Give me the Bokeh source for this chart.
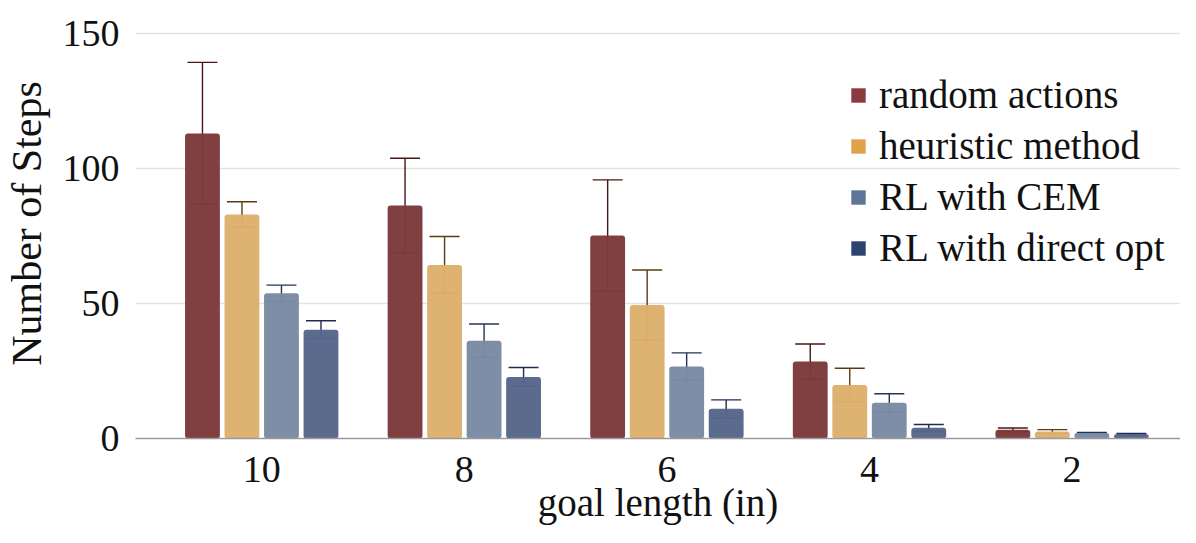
from bokeh.plotting import figure
from bokeh.models import (ColumnDataSource, Range1d, FixedTicker, Whisker, TeeHead,
                          Legend, LegendItem)
from bokeh.transform import dodge
from bokeh.embed import file_html
from bokeh.resources import INLINE

categories = ["10", "8", "6", "4", "2"]
series = ["random actions", "heuristic method", "RL with CEM", "RL with direct opt"]
random_actions = [113, 86.3, 75.2, 28.5, 3.2]
random_err = [26.3, 17.5, 20.6, 6.5, 0.7]
heuristic = [83, 64.3, 49.4, 19.8, 2.6]
heuristic_err = [4.7, 10.5, 13.0, 6.2, 0.7]
rl_cem = [53.8, 36.2, 26.7, 13.2, 2.0]
rl_cem_err = [3.0, 6.2, 5.0, 3.4, 0.2]
rl_direct = [40.3, 22.8, 11.0, 4.0, 1.6]
rl_direct_err = [3.3, 3.5, 3.3, 1.2, 0.3]
y_ticks = [0, 50, 100, 150]

values = [random_actions, heuristic, rl_cem, rl_direct]
errors = [random_err, heuristic_err, rl_cem_err, rl_direct_err]
bar_colors = ["#7C3A3B", "#DDAF6C", "#7A8AA4", "#55668A"]
err_colors = ["#4A1515", "#5A3C12", "#23335A", "#1E2C52"]
legend_colors = ["#8B3A3E", "#E0A34B", "#5F7599", "#2E4270"]
offsets = [-0.2925, -0.0975, 0.0975, 0.2925]

FONT = "Liberation Serif"

p = figure(width=1180, height=527, output_backend="svg", toolbar_location=None,
           x_range=Range1d(-0.623, 4.535), y_range=Range1d(0, 159.26),
           min_border_left=133, min_border_right=0, min_border_top=8,
           min_border_bottom=89)
p.outline_line_color = None
p.background_fill_color = "white"

xs = list(range(len(categories)))
legend_items = []
for i, name in enumerate(series):
    v = values[i]
    e = errors[i]
    src = ColumnDataSource(dict(
        x=xs, top=v,
        upper=[a + b for a, b in zip(v, e)],
        lower=[a - b for a, b in zip(v, e)],
    ))
    p.vbar(x=dodge("x", offsets[i], range=p.x_range), top="top", width=0.172,
           source=src, fill_color=bar_colors[i], fill_alpha=0.97,
           line_color=None, border_radius=3)
    w = Whisker(base=dodge("x", offsets[i], range=p.x_range), upper="upper",
                lower="lower", source=src, line_color=err_colors[i], line_width=1.4,
                upper_head=TeeHead(size=30, line_color=err_colors[i], line_width=1.4),
                lower_head=TeeHead(size=30, line_color=err_colors[i], line_width=1.4))
    p.add_layout(w)
    # legend swatch renderer (hidden, used only for the legend colour)
    lg = p.vbar(x=dodge("x", offsets[i], range=p.x_range), top="top", width=0.172,
                source=src, fill_color=legend_colors[i], line_color=None,
                visible=False)
    legend_items.append(LegendItem(label=name, renderers=[lg]))

legend = Legend(items=legend_items, location=(714, 168))
legend.label_text_font = FONT
legend.label_text_font_size = "39px"
legend.label_text_color = "#111111"
legend.glyph_width = 18
legend.glyph_height = 18
legend.label_height = 40
legend.spacing = 6
legend.label_standoff = 12
legend.padding = 0
legend.margin = 0
legend.border_line_color = None
legend.background_fill_alpha = 0
p.add_layout(legend)

# axes
p.xaxis.ticker = FixedTicker(ticks=xs)
p.xaxis.major_label_overrides = {i: c for i, c in enumerate(categories)}
p.xaxis.axis_label = "goal length (in)"
p.yaxis.ticker = FixedTicker(ticks=y_ticks)
p.yaxis.axis_label = "Number of Steps"

for ax in (p.xaxis, p.yaxis):
    ax.major_tick_line_color = None
    ax.minor_tick_line_color = None
    ax.major_label_text_font = FONT
    ax.major_label_text_font_size = "38px"
    ax.major_label_text_color = "#111111"
    ax.axis_label_text_font = FONT
    ax.axis_label_text_font_style = "normal"
    ax.axis_label_text_color = "#111111"

p.xaxis.axis_label_text_font_size = "39px"
p.yaxis.axis_label_text_font_size = "42px"
p.yaxis.axis_line_color = None
p.yaxis.major_label_standoff = 10
p.yaxis.axis_label_standoff = 10
p.xaxis.axis_line_color = "#9a9a9a"
p.xaxis.axis_line_width = 1.5
p.xaxis.major_label_standoff = 12
p.xaxis.axis_label_standoff = -4

p.xgrid.grid_line_color = None
p.ygrid.ticker = FixedTicker(ticks=y_ticks)
p.ygrid.grid_line_color = "#e3e3e3"
p.ygrid.grid_line_width = 1.5

open("out.html", "w").write(file_html(p, INLINE))
